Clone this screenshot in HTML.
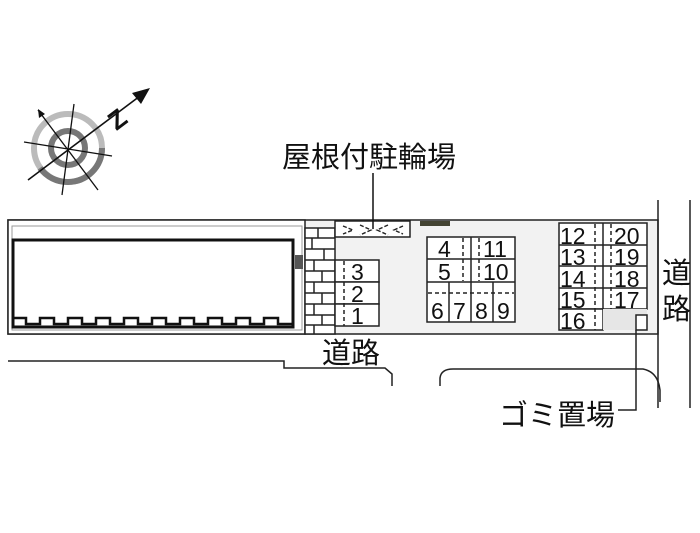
<!DOCTYPE html>
<html><head><meta charset="utf-8"><style>
html,body{margin:0;padding:0;background:#fff;}
svg{display:block}
text{font-family:"Liberation Sans","Noto Sans CJK JP",sans-serif;fill:#111}
</style></head><body>
<svg width="700" height="533" viewBox="0 0 700 533" xmlns="http://www.w3.org/2000/svg">
<!-- compass -->
<g>
<circle cx="68" cy="148" r="34" fill="none" stroke="#bbb" stroke-width="6"/>
<path d="M102 148 A34 34 0 0 1 68 182 A34 34 0 0 1 40 168" fill="none" stroke="#777" stroke-width="6"/>
<circle cx="68" cy="148" r="17" fill="none" stroke="#777" stroke-width="6"/>
<line x1="28" y1="180" x2="148" y2="90" stroke="#111" stroke-width="1.6"/>
<polygon points="150,88 132,93 141,104" fill="#111"/>
<line x1="38" y1="110" x2="98" y2="190" stroke="#111" stroke-width="1.3"/>
<polygon points="38,109 39,118 45,114" fill="#111"/>
<line x1="74" y1="104" x2="62" y2="195" stroke="#111" stroke-width="1.3"/>
<line x1="24" y1="142" x2="112" y2="156" stroke="#111" stroke-width="1.3"/>
<text x="108" y="126" font-size="26" font-weight="bold" transform="rotate(-37 120 116)">Z</text>
</g>
<!-- site -->
<rect x="8" y="220" width="650" height="114" fill="#f2f2f2" stroke="#222" stroke-width="1.5"/>
<rect x="8" y="220" width="297" height="114" fill="#fff" stroke="#222" stroke-width="1.5"/>
<rect x="12" y="226" width="290" height="104" fill="none" stroke="#999" stroke-width="1"/>
<rect x="13" y="240" width="280" height="87" fill="#fff" stroke="#111" stroke-width="3"/>
<path d="M14 318 H26 V324 H40 V318 H54 V324 H68 V318 H82 V324 H96 V318 H110 V324 H124 V318 H138 V324 H152 V318 H166 V324 H180 V318 H194 V324 H208 V318 H222 V324 H236 V318 H250 V324 H264 V318 H278 V324 H292" fill="none" stroke="#111" stroke-width="2.5"/>
<rect x="295" y="255" width="8" height="14" fill="#555"/>
<!-- bricks -->
<rect x="305" y="228" width="30" height="106" fill="#fff" stroke="#222" stroke-width="1.5"/>
<g stroke="#222" stroke-width="1.5">
<line x1="305" y1="238" x2="335" y2="238"/><line x1="305" y1="249" x2="335" y2="249"/><line x1="305" y1="260" x2="335" y2="260"/><line x1="305" y1="271" x2="335" y2="271"/><line x1="305" y1="282" x2="335" y2="282"/><line x1="305" y1="293" x2="335" y2="293"/><line x1="305" y1="304" x2="335" y2="304"/><line x1="305" y1="315" x2="335" y2="315"/><line x1="305" y1="325" x2="335" y2="325"/>
<line x1="318" y1="228" x2="318" y2="238"/><line x1="312" y1="238" x2="312" y2="249"/><line x1="324" y1="249" x2="324" y2="260"/><line x1="314" y1="260" x2="314" y2="271"/><line x1="322" y1="271" x2="322" y2="282"/><line x1="314" y1="282" x2="314" y2="293"/><line x1="322" y1="293" x2="322" y2="304"/><line x1="314" y1="304" x2="314" y2="315"/><line x1="322" y1="315" x2="322" y2="325"/><line x1="314" y1="325" x2="314" y2="334"/>
</g>
<!-- bike shelter -->
<rect x="335" y="221" width="75" height="16" fill="#fff" stroke="#222" stroke-width="1.5"/>
<path d="M343 226 L353 230 L343 234 M360 225 L371 230 L360 235 M388 225 L377 230 L388 235 M403 226 L394 230 L403 234" fill="none" stroke="#222" stroke-width="1.4" stroke-dasharray="4,2"/>
<rect x="420" y="221" width="30" height="5" fill="#443"/>
<line x1="373" y1="173" x2="373" y2="229" stroke="#111" stroke-width="1.5"/>
<text x="282" y="167" font-size="29">屋根付駐輪場</text>
<!-- parking 1-3 -->
<g fill="#fff" stroke="#222" stroke-width="1.5">
<rect x="335" y="260" width="44" height="22"/><rect x="335" y="282" width="44" height="22"/><rect x="335" y="304" width="44" height="22"/>
</g>
<g stroke="#222" stroke-width="1.5" stroke-dasharray="4,3"><line x1="344" y1="261" x2="344" y2="326"/></g>
<g font-size="23"><text x="351" y="280">3</text><text x="351" y="302">2</text><text x="351" y="324">1</text></g>
<!-- block 4-11 -->
<rect x="427" y="237" width="88" height="85" fill="#fff" stroke="#222" stroke-width="1.5"/>
<g stroke="#222" stroke-width="1.5">
<line x1="427" y1="259" x2="515" y2="259"/><line x1="427" y1="282" x2="515" y2="282"/>
<line x1="471" y1="237" x2="471" y2="322"/><line x1="449" y1="282" x2="449" y2="322"/><line x1="493" y1="282" x2="493" y2="322"/>
</g>
<g stroke="#222" stroke-width="1.5" stroke-dasharray="4,3">
<line x1="463" y1="238" x2="463" y2="281"/><line x1="479" y1="238" x2="479" y2="281"/>
<line x1="428" y1="293" x2="514" y2="293"/>
</g>
<g font-size="23">
<text x="438" y="257">4</text><text x="438" y="280">5</text>
<text x="483" y="257">11</text><text x="483" y="280">10</text>
<text x="431" y="319">6</text><text x="453" y="319">7</text><text x="475" y="319">8</text><text x="497" y="319">9</text>
</g>
<!-- right block -->
<g fill="#fff" stroke="#222" stroke-width="1.5">
<rect x="559" y="223" width="88" height="86"/>
<rect x="559" y="309" width="44" height="21"/>
</g>
<rect x="603" y="309" width="44" height="21" fill="#e6e6e6"/>
<rect x="636" y="315" width="11" height="15" fill="#fff" stroke="#222" stroke-width="1.5"/>
<g stroke="#222" stroke-width="1.5">
<line x1="559" y1="245" x2="647" y2="245"/><line x1="559" y1="266" x2="647" y2="266"/><line x1="559" y1="288" x2="647" y2="288"/>
<line x1="603" y1="223" x2="603" y2="309"/>
</g>
<g stroke="#222" stroke-width="1.5" stroke-dasharray="4,3">
<line x1="595" y1="224" x2="595" y2="330"/><line x1="611" y1="224" x2="611" y2="309"/>
</g>
<g font-size="23">
<text x="560" y="244">12</text><text x="560" y="265">13</text><text x="560" y="287">14</text><text x="560" y="308">15</text><text x="560" y="329">16</text>
<text x="614" y="244">20</text><text x="614" y="265">19</text><text x="614" y="287">18</text><text x="614" y="308">17</text>
</g>
<!-- roads -->
<g fill="none" stroke="#222" stroke-width="1.5">
<line x1="658" y1="200" x2="658" y2="408"/>
<line x1="690" y1="200" x2="690" y2="408"/>
<path d="M8 361 H284 V368 H385 L392 374 V386"/>
<path d="M440 386 V378 Q441 369 453 369 H643 Q658 372 660 390 V402"/>
<path d="M636 330 V410 H618"/>
</g>
<text x="322" y="363" font-size="29">道路</text>
<text x="662" y="283" font-size="29">道</text>
<text x="662" y="319" font-size="29">路</text>
<text x="499" y="425" font-size="29">ゴミ置場</text>
</svg>
</body></html>
